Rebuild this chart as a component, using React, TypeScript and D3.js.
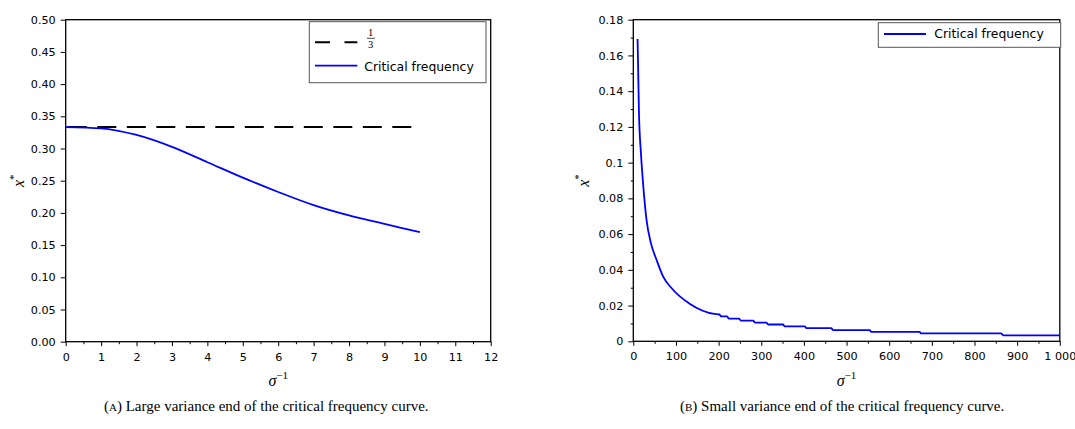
import React from "react";
import * as d3 from "d3";

// panel A: large variance end
const sigmaA = [0, 1, 2, 3, 4, 5, 6, 7, 8, 9, 10];
const criticalA = [0.3333, 0.3313, 0.321, 0.3025, 0.2787, 0.2547, 0.2325, 0.212, 0.196, 0.183, 0.17];
const thirdSigma = [0, 10];
const thirdValue = 1 / 3;

// panel B: small variance end
const sigmaB = [
  10, 13.3, 18, 23.5, 31, 41.5, 54.7, 70, 90, 133, 190, 202, 206, 220, 224, 248, 252, 281, 285,
  312, 316, 351, 355, 402, 406, 464, 468, 554, 558, 671, 675, 862, 868, 1000,
];
const criticalB = [
  0.1692, 0.1276, 0.105, 0.0866, 0.068, 0.0548, 0.0455, 0.0362, 0.0297, 0.0209, 0.0153, 0.015,
  0.0139, 0.0139, 0.0127, 0.0127, 0.0116, 0.0116, 0.0105, 0.0105, 0.0094, 0.0094, 0.0084, 0.0084,
  0.0074, 0.0074, 0.0063, 0.0063, 0.0053, 0.0053, 0.0044, 0.0044, 0.0033, 0.0033,
];

const xTicksA = d3.range(0, 13, 1);
const xMinorA = d3.range(0.5, 12, 1);
const yTicksA = d3.range(0, 0.5001, 0.05);
const xTicksB = d3.range(0, 1001, 100);
const xMinorB = d3.range(50, 1000, 100);
const yTicksB = d3.range(0, 0.1801, 0.02);
const yMinorB = d3.range(0.01, 0.18, 0.02);

const captionA = "Large variance end of the critical frequency curve.";
const captionB = "Small variance end of the critical frequency curve.";
const legendLabel = "Critical frequency";

const blue = "#0000ff";
const tickFont = "DejaVu Sans, Verdana, sans-serif";
const mathFont = "Liberation Serif, Times New Roman, serif";

const spaced = d3.formatLocale({ decimal: ".", thousands: " ", grouping: [3], currency: ["", ""] }).format(",d");

const styleAxis = (g) => {
  g.select(".domain").remove();
  g.attr("font-family", tickFont).attr("font-size", 11.2);
  g.selectAll("text").attr("fill", "#000");
  g.selectAll("line").attr("stroke", "#000").attr("stroke-width", 1);
};

const App = () => {
  const xA = d3.scaleLinear().domain([0, 12]).range([65.7, 490.7]);
  const yA = d3.scaleLinear().domain([0, 0.5]).range([341.7, 19.7]);
  const xB = d3.scaleLinear().domain([0, 1000]).range([633.3, 1059.8]);
  const yB = d3.scaleLinear().domain([0, 0.18]).range([341.3, 19.7]);

  const lineA = d3
    .line()
    .x((d) => xA(d[0]))
    .y((d) => yA(d[1]))
    .curve(d3.curveMonotoneX)(sigmaA.map((s, i) => [s, criticalA[i]]));

  const lineB = d3
    .line()
    .x((d) => xB(d[0]))
    .y((d) => yB(d[1]))
    .curve(d3.curveMonotoneX)(sigmaB.map((s, i) => [s, criticalB[i]]));

  const thirdLine = d3
    .line()
    .x((d) => xA(d))
    .y(() => yA(thirdValue))(thirdSigma);

  const fmtB = (d) => (d === 0 ? "0" : String(+d.toFixed(2)));

  return (
    <div style={{ position: "absolute", left: 0, top: 0 }}>
      <svg width={1075} height={429} style={{ display: "block", background: "#fff" }}>
        {/* ---- panel A ---- */}
        <g
          transform={`translate(0,${yA(0)})`}
          ref={(el) => {
            if (!el) return;
            d3.select(el).call(d3.axisBottom(xA).tickValues(xTicksA).tickSize(4.5).tickPadding(6.5)).call(styleAxis);
          }}
        />
        <g
          transform={`translate(0,${yA(0)})`}
          ref={(el) => {
            if (!el) return;
            d3.select(el).call(d3.axisBottom(xA).tickValues(xMinorA).tickSize(2.5).tickFormat(() => "")).call(styleAxis);
          }}
        />
        <g
          transform={`translate(${xA(0)},0)`}
          ref={(el) => {
            if (!el) return;
            d3.select(el).call(d3.axisLeft(yA).tickValues(yTicksA).tickSize(5).tickPadding(5).tickFormat(d3.format(".2f"))).call(styleAxis);
          }}
        />
        <rect
          x={xA(0)}
          y={yA(0.5)}
          width={xA(12) - xA(0)}
          height={yA(0) - yA(0.5)}
          fill="none"
          stroke="#000"
          strokeWidth={1.3}
        />
        <path d={thirdLine} fill="none" stroke="#000" strokeWidth={2} strokeDasharray="19 10.5" strokeDashoffset={27.4} />
        <path d={lineA} fill="none" stroke={blue} strokeWidth={1.8} />

        {/* legend A */}
        <rect x={309.3} y={21.7} width={176.7} height={61} fill="#fff" stroke="#555" strokeWidth={1} />
        <line x1={315} x2={357.3} y1={42.3} y2={42.3} stroke="#000" strokeWidth={2} strokeDasharray="15 14.5" />
        <text x={370.5} y={36} fontFamily={mathFont} fontSize={10.5} textAnchor="middle">1</text>
        <line x1={367} x2={375} y1={38.3} y2={38.3} stroke="#000" strokeWidth={0.7} />
        <text x={370.5} y={47.5} fontFamily={mathFont} fontSize={10.5} textAnchor="middle">3</text>
        <line x1={315} x2={357.3} y1={65.7} y2={65.7} stroke={blue} strokeWidth={1.8} />
        <text x={364.3} y={70.5} fontFamily={tickFont} fontSize={12.4}>{legendLabel}</text>

        {/* axis titles A */}
        <text x={278.2} y={386} fontFamily={mathFont} fontSize={16} fontStyle="italic" textAnchor="middle">
          σ<tspan dy={-7} fontSize={11} fontStyle="normal">−1</tspan>
        </text>
        <text transform="translate(23.5,180.7) rotate(-90)" fontFamily={mathFont} fontSize={16} fontStyle="italic" textAnchor="middle">
          x<tspan dy={-7} fontSize={11} fontStyle="normal">*</tspan>
        </text>

        {/* ---- panel B ---- */}
        <g
          transform={`translate(0,${yB(0)})`}
          ref={(el) => {
            if (!el) return;
            d3.select(el).call(d3.axisBottom(xB).tickValues(xTicksB).tickSize(4.5).tickPadding(6.5).tickFormat(spaced)).call(styleAxis);
          }}
        />
        <g
          transform={`translate(0,${yB(0)})`}
          ref={(el) => {
            if (!el) return;
            d3.select(el).call(d3.axisBottom(xB).tickValues(xMinorB).tickSize(2.5).tickFormat(() => "")).call(styleAxis);
          }}
        />
        <g
          transform={`translate(${xB(0)},0)`}
          ref={(el) => {
            if (!el) return;
            d3.select(el).call(d3.axisLeft(yB).tickValues(yTicksB).tickSize(5).tickPadding(5).tickFormat(fmtB)).call(styleAxis);
          }}
        />
        <g
          transform={`translate(${xB(0)},0)`}
          ref={(el) => {
            if (!el) return;
            d3.select(el).call(d3.axisLeft(yB).tickValues(yMinorB).tickSize(2.5).tickFormat(() => "")).call(styleAxis);
          }}
        />
        <rect
          x={xB(0)}
          y={yB(0.18)}
          width={xB(1000) - xB(0)}
          height={yB(0) - yB(0.18)}
          fill="none"
          stroke="#000"
          strokeWidth={1.3}
        />
        <path d={lineB} fill="none" stroke={blue} strokeWidth={1.8} />

        {/* legend B */}
        <rect x={878.3} y={22.7} width={182.4} height={24.6} fill="#fff" stroke="#555" strokeWidth={1} />
        <line x1={884} x2={926} y1={34} y2={34} stroke={blue} strokeWidth={1.8} />
        <text x={934.3} y={38.3} fontFamily={tickFont} fontSize={12.4}>{legendLabel}</text>

        {/* axis titles B */}
        <text x={846.5} y={386} fontFamily={mathFont} fontSize={16} fontStyle="italic" textAnchor="middle">
          σ<tspan dy={-7} fontSize={11} fontStyle="normal">−1</tspan>
        </text>
        <text transform="translate(589,180.5) rotate(-90)" fontFamily={mathFont} fontSize={16} fontStyle="italic" textAnchor="middle">
          x<tspan dy={-7} fontSize={11} fontStyle="normal">*</tspan>
        </text>

        {/* captions */}
        <text x={104} y={411} fontFamily={mathFont} fontSize={15}>
          (<tspan fontSize={11}>A</tspan>) {captionA}
        </text>
        <text x={680} y={411} fontFamily={mathFont} fontSize={15}>
          (<tspan fontSize={11}>B</tspan>) {captionB}
        </text>
      </svg>
    </div>
  );
};

export default App;
